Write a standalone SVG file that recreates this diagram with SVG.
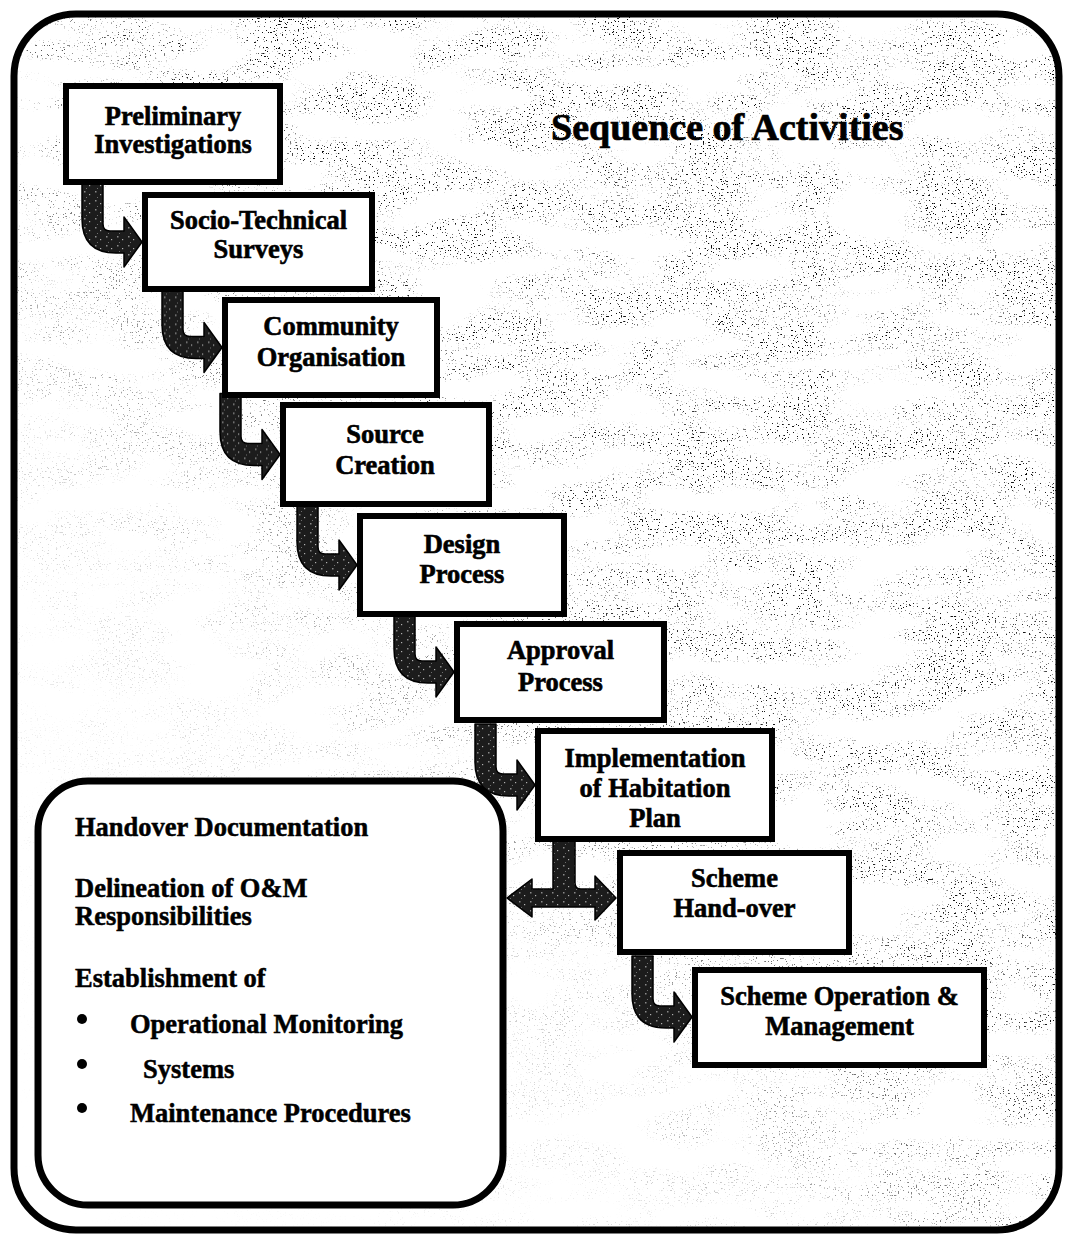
<svg xmlns="http://www.w3.org/2000/svg" width="1068" height="1235" viewBox="0 0 1068 1235">
  <style>
    .frame { fill: none; stroke: #000; stroke-width: 7; }
    .step { fill: #fff; stroke: #000; stroke-width: 6; }
    .panel { fill: #fff; stroke: #000; stroke-width: 7; }
    .label { font-family: "Liberation Serif", "Times New Roman", serif; font-weight: bold; font-size: 26.5px; fill: #000; stroke: #000; stroke-width: 0.6; text-anchor: middle; }
    .item { font-family: "Liberation Serif", "Times New Roman", serif; font-weight: bold; font-size: 26.5px; fill: #000; stroke: #000; stroke-width: 0.5; }
    .title { font-family: "Liberation Serif", "Times New Roman", serif; font-weight: bold; font-size: 38px; fill: #000; stroke: #000; stroke-width: 0.7; }
    .arrow { fill: url(#ink); stroke: #000; stroke-width: 1.5; stroke-linejoin: round; }
  </style>
  <defs>
    <!-- dark, flecked fill used by the bent arrows -->
    <pattern id="ink" width="11" height="9" patternUnits="userSpaceOnUse">
      <rect width="11" height="9" fill="#1c1c1c"/>
      <rect x="2" y="1" width="1.5" height="1.5" fill="#8a8a8a"/>
      <rect x="7" y="4" width="1.2" height="1.2" fill="#b0b0b0"/>
      <rect x="4" y="7" width="1" height="1" fill="#6e6e6e"/>
    </pattern>
    <!-- printed stipple in the background: sparse fine dots gathered into streaky patches -->
    <filter id="stipple" filterUnits="userSpaceOnUse" x="0" y="0" width="1068" height="1235">
      <feTurbulence type="fractalNoise" baseFrequency="0.62" numOctaves="2" seed="11" result="fine"/>
      <feColorMatrix in="fine" type="matrix" values="0 0 0 0 0  0 0 0 0 0  0 0 0 0 0  18 0 0 0 -12" result="dots"/>
      <feTurbulence type="fractalNoise" baseFrequency="0.012 0.035" numOctaves="2" seed="4" result="coarse"/>
      <feColorMatrix in="coarse" type="matrix" values="0 0 0 0 0  0 0 0 0 0  0 0 0 0 0  5 0 0 0 -2" result="patches"/>
      <feComposite in="dots" in2="patches" operator="in"/>
    </filter>
    <linearGradient id="density" x1="1" y1="0" x2="0" y2="1">
      <stop offset="0" stop-color="#fff"/>
      <stop offset="0.42" stop-color="#eee"/>
      <stop offset="0.54" stop-color="#888"/>
      <stop offset="0.68" stop-color="#2a2a2a"/>
      <stop offset="0.85" stop-color="#050505"/>
      <stop offset="1" stop-color="#000"/>
    </linearGradient>
    <mask id="stippleMask" maskUnits="userSpaceOnUse" x="0" y="0" width="1068" height="1235">
      <rect x="0" y="0" width="1068" height="1235" fill="url(#density)"/>
    </mask>
    <clipPath id="inside">
      <rect x="14" y="14" width="1045" height="1216" rx="62"/>
    </clipPath>
    <!-- bent arrow: shaft drops from a box and turns right into the next one -->
    <path id="bent" d="M0,0 H21 V43 Q21,50 28,50 H42 V36 L60,61 L42,86 V72 H34 Q0,72 0,38 Z"/>
  </defs>

  <rect x="0" y="0" width="1068" height="1235" fill="#fff"/>

  <!-- background stipple, kept inside the frame -->
  <g clip-path="url(#inside)">
    <g mask="url(#stippleMask)">
      <rect x="14" y="14" width="1045" height="1216" filter="url(#stipple)"/>
    </g>
  </g>

  <!-- outer frame -->
  <rect class="frame" x="14" y="14" width="1045" height="1216" rx="62"/>

  <text class="title" x="551" y="140">Sequence of Activities</text>

  <!-- connectors -->
  <g id="connectors">
    <use href="#bent" class="arrow" transform="translate(82,181)"/>
    <use href="#bent" class="arrow" transform="translate(162,286.5)"/>
    <use href="#bent" class="arrow" transform="translate(220,393.5)"/>
    <use href="#bent" class="arrow" transform="translate(297,504)"/>
    <use href="#bent" class="arrow" transform="translate(394,611)"/>
    <use href="#bent" class="arrow" transform="translate(475,724)"/>
    <use href="#bent" class="arrow" transform="translate(632,956)"/>
    <!-- two-way link between the hand-over step and its checklist -->
    <path class="arrow" d="M507,898 L532,879 V889 H553 V836 H575 V883 Q575,889 581,889 H595 V876 L616,898 L595,920 V907 H532 V917 Z"/>
  </g>

  <g id="preliminary-investigations">
    <rect class="step" x="66" y="86" width="214" height="96"/>
    <text class="label" x="173" y="125">Preliminary</text>
    <text class="label" x="173" y="153">Investigations</text>
  </g>

  <g id="socio-technical-surveys">
    <rect class="step" x="145" y="195" width="227" height="94"/>
    <text class="label" x="258.5" y="229">Socio-Technical</text>
    <text class="label" x="258.5" y="258">Surveys</text>
  </g>

  <g id="community-organisation">
    <rect class="step" x="225" y="300" width="212" height="95"/>
    <text class="label" x="331" y="335">Community</text>
    <text class="label" x="331" y="366">Organisation</text>
  </g>

  <g id="source-creation">
    <rect class="step" x="283" y="405" width="206" height="99"/>
    <text class="label" x="385" y="443">Source</text>
    <text class="label" x="385" y="474">Creation</text>
  </g>

  <g id="design-process">
    <rect class="step" x="360" y="516" width="204" height="98"/>
    <text class="label" x="462" y="553">Design</text>
    <text class="label" x="462" y="583">Process</text>
  </g>

  <g id="approval-process">
    <rect class="step" x="457" y="624" width="207" height="96"/>
    <text class="label" x="560.5" y="659">Approval</text>
    <text class="label" x="560.5" y="691">Process</text>
  </g>

  <g id="implementation">
    <rect class="step" x="538" y="731" width="234" height="108"/>
    <text class="label" x="655" y="767">Implementation</text>
    <text class="label" x="655" y="797">of Habitation</text>
    <text class="label" x="655" y="827">Plan</text>
  </g>

  <g id="scheme-hand-over">
    <rect class="step" x="620" y="853" width="229" height="99"/>
    <text class="label" x="734.5" y="887">Scheme</text>
    <text class="label" x="734.5" y="917">Hand-over</text>
  </g>

  <g id="scheme-operation">
    <rect class="step" x="695" y="970" width="289" height="95"/>
    <text class="label" x="839.5" y="1005">Scheme Operation &amp;</text>
    <text class="label" x="839.5" y="1035">Management</text>
  </g>

  <g id="handover-checklist">
    <rect class="panel" x="38" y="781" width="465" height="424" rx="50"/>
    <text class="item" x="75" y="836">Handover Documentation</text>
    <text class="item" x="75" y="897">Delineation of O&amp;M</text>
    <text class="item" x="75" y="925">Responsibilities</text>
    <text class="item" x="75" y="987">Establishment of</text>
    <circle cx="82" cy="1019" r="5"/>
    <text class="item" x="130" y="1033">Operational  Monitoring</text>
    <circle cx="82" cy="1064" r="5"/>
    <text class="item" x="143" y="1078">Systems</text>
    <circle cx="82" cy="1108" r="5"/>
    <text class="item" x="130" y="1122">Maintenance Procedures</text>
  </g>
</svg>
